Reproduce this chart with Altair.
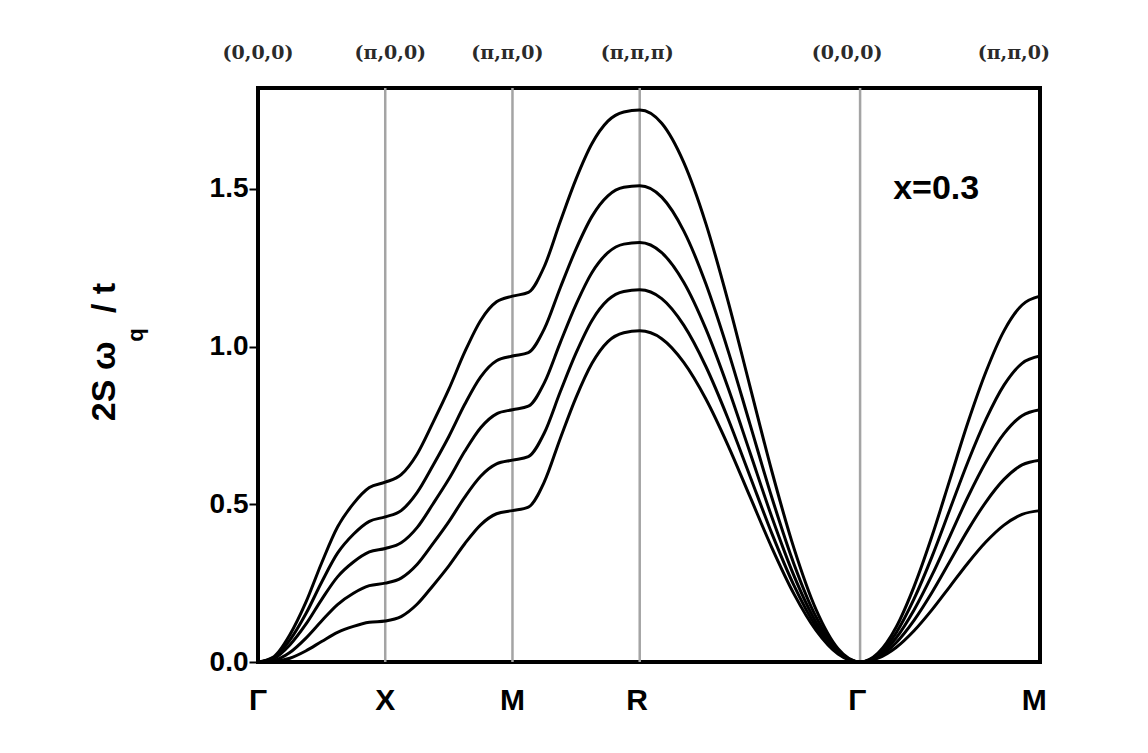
import altair as alt
import pandas as pd

# path coordinate along Γ-X-M-R-Γ-M (units of π)
k_path = [0, 0.125, 0.25, 0.375, 0.5, 0.625, 0.75, 0.875, 1.0,
          1.125, 1.25, 1.375, 1.5, 1.625, 1.75, 1.875, 2.0,
          2.125, 2.25, 2.375, 2.5, 2.625, 2.75, 2.875, 3.0,
          3.173, 3.346, 3.520, 3.693, 3.866, 4.039, 4.212, 4.386, 4.559, 4.732,
          4.873, 5.015, 5.156, 5.298, 5.439, 5.580, 5.722, 5.863, 6.005, 6.146]

curve1 = [0, 0.017, 0.086, 0.188, 0.314, 0.428, 0.502, 0.553, 0.57,
          0.594, 0.659, 0.759, 0.865, 0.983, 1.083, 1.142, 1.16,
          1.172, 1.254, 1.396, 1.532, 1.644, 1.715, 1.744, 1.75,
          1.708, 1.584, 1.390, 1.146, 0.875, 0.604, 0.361, 0.166, 0.042, 0,
          0.028, 0.110, 0.239, 0.400, 0.58, 0.760, 0.921, 1.050, 1.132, 1.16]
curve2 = [0, 0.014, 0.069, 0.152, 0.253, 0.345, 0.405, 0.446, 0.46,
          0.480, 0.537, 0.623, 0.715, 0.817, 0.904, 0.955, 0.97,
          0.981, 1.056, 1.186, 1.310, 1.413, 1.478, 1.505, 1.51,
          1.474, 1.367, 1.199, 0.989, 0.755, 0.521, 0.311, 0.143, 0.036, 0,
          0.023, 0.092, 0.200, 0.335, 0.485, 0.635, 0.770, 0.878, 0.947, 0.97]
curve3 = [0, 0.011, 0.054, 0.119, 0.198, 0.27, 0.317, 0.349, 0.36,
          0.378, 0.426, 0.501, 0.58, 0.668, 0.743, 0.787, 0.80,
          0.811, 0.885, 1.012, 1.134, 1.235, 1.298, 1.325, 1.33,
          1.298, 1.204, 1.056, 0.871, 0.665, 0.459, 0.274, 0.126, 0.032, 0,
          0.019, 0.076, 0.165, 0.276, 0.40, 0.524, 0.635, 0.724, 0.781, 0.80]
curve4 = [0, 0.005, 0.03, 0.075, 0.13, 0.182, 0.218, 0.242, 0.25,
          0.266, 0.309, 0.375, 0.445, 0.523, 0.589, 0.628, 0.64,
          0.651, 0.726, 0.856, 0.980, 1.083, 1.148, 1.175, 1.18,
          1.152, 1.068, 0.937, 0.773, 0.59, 0.407, 0.243, 0.112, 0.028, 0,
          0.015, 0.061, 0.132, 0.221, 0.32, 0.419, 0.508, 0.579, 0.625, 0.64]
curve5 = [0, 0.002, 0.012, 0.035, 0.065, 0.094, 0.113, 0.126, 0.13,
          0.144, 0.183, 0.242, 0.305, 0.375, 0.435, 0.470, 0.48,
          0.491, 0.571, 0.708, 0.839, 0.947, 1.016, 1.044, 1.05,
          1.025, 0.950, 0.834, 0.688, 0.525, 0.362, 0.216, 0.100, 0.025, 0,
          0.012, 0.046, 0.099, 0.166, 0.24, 0.314, 0.381, 0.434, 0.468, 0.48]

bottom_labels = ["Γ", "X", "M", "R", "Γ", "M"]
bottom_label_pos = [0, 1.0, 2.0, 2.98, 4.71, 6.1]
top_labels = ["(0,0,0)", "(π,0,0)", "(π,π,0)", "(π,π,π)", "(0,0,0)", "(π,π,0)"]
top_label_pos = [0, 1.04, 1.96, 2.98, 4.63, 5.94]
grid_pos = [1.0, 2.0, 3.0, 4.732]
y_ticks = [0.0, 0.5, 1.0, 1.5]
annotation_text = "x=0.3"
annotation_k = 5.33
annotation_w = 1.50
y_title_main = "2S ω\u00a0\u00a0\u00a0/ t"
y_title_sub = "q"

rows = []
for name, vals in zip(["c1", "c2", "c3", "c4", "c5"], [curve1, curve2, curve3, curve4, curve5]):
    for k, w in zip(k_path, vals):
        rows.append({"curve": name, "k": k, "w": w})
df = pd.DataFrame(rows)

xs = alt.Scale(domain=[0, 6.146], nice=False, zero=False)
ys = alt.Scale(domain=[0, 1.82], nice=False, zero=False)
y_axis = alt.Axis(
    values=y_ticks, format=".1f", labelFont="Liberation Sans", labelFontWeight="bold",
    labelFontSize=28, labelColor="black", tickColor="black", tickSize=9, tickWidth=2,
    domain=False, grid=False, title=None, labelPadding=1)

lines = alt.Chart(df).mark_line(color="black", strokeWidth=3, interpolate="monotone").encode(
    x=alt.X("k:Q", scale=xs, axis=None),
    y=alt.Y("w:Q", scale=ys, axis=y_axis),
    detail="curve:N",
)

grid = alt.Chart(pd.DataFrame({"g": grid_pos})).mark_rule(color="#a4a4a4", strokeWidth=2.5).encode(
    x=alt.X("g:Q", scale=xs, axis=None),
    y=alt.value(0), y2=alt.value(574),
)

bottom = alt.Chart(pd.DataFrame({"pos": bottom_label_pos, "lab": bottom_labels})).mark_text(
    font="Liberation Sans", fontWeight="bold", fontSize=30, color="black", baseline="middle"
).encode(x=alt.X("pos:Q", scale=xs, axis=None), y=alt.value(613), text="lab:N")

top = alt.Chart(pd.DataFrame({"pos": top_label_pos, "lab": top_labels})).mark_text(
    font="DejaVu Serif", fontWeight="bold", fontSize=19, color="#2a2a2a", baseline="middle"
).encode(x=alt.X("pos:Q", scale=xs, axis=None), y=alt.value(-35), text="lab:N")

annot = alt.Chart(pd.DataFrame({"k": [annotation_k], "w": [annotation_w], "t": [annotation_text]})).mark_text(
    font="Liberation Sans", fontWeight="bold", fontSize=34, color="black", baseline="middle"
).encode(x=alt.X("k:Q", scale=xs, axis=None), y=alt.Y("w:Q", scale=ys, axis=y_axis), text="t:N")

ytitle = alt.Chart(pd.DataFrame({"t": [y_title_main]})).mark_text(
    font="Liberation Sans", fontWeight="bold", fontSize=34, color="black", angle=270,
    baseline="middle", align="center"
).encode(x=alt.value(-153), y=alt.value(264), text="t:N")

ysub = alt.Chart(pd.DataFrame({"t": [y_title_sub]})).mark_text(
    font="Liberation Sans", fontWeight="bold", fontSize=22, color="black", angle=270,
    baseline="middle", align="center"
).encode(x=alt.value(-122), y=alt.value(247), text="t:N")

chart = alt.layer(grid, lines, bottom, top, annot, ytitle, ysub).properties(
    width=782, height=574,
    padding={"left": 250, "top": 80, "right": 100, "bottom": 80},
    autosize=alt.AutoSizeParams(type="none"),
    background="white",
).configure_view(stroke="black", strokeWidth=4)

chart.save("out.html", embed_options={"renderer": "svg", "actions": False})
